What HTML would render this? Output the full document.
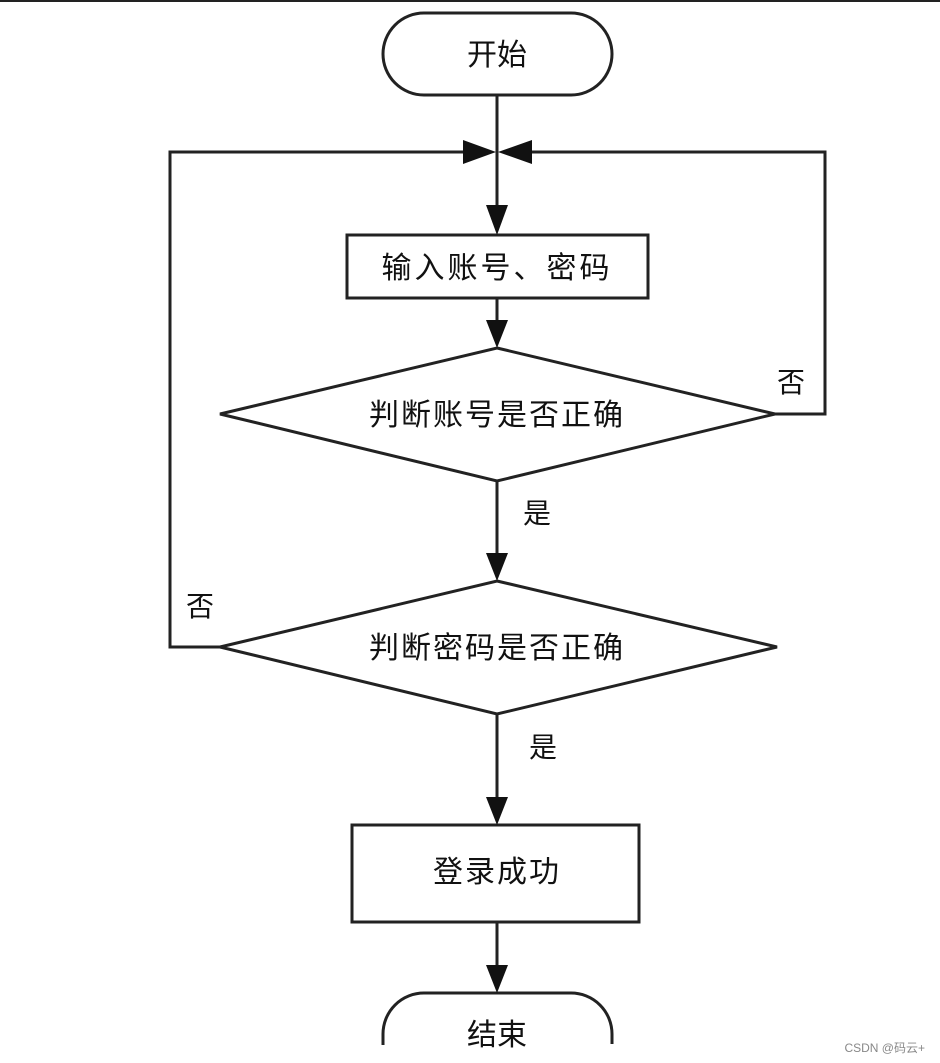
<!DOCTYPE html>
<html><head><meta charset="utf-8"><style>
html,body{margin:0;padding:0;background:#fff;}
svg{display:block}
text{font-family:"Liberation Sans","Noto Sans CJK SC",sans-serif;fill:#111;}
</style></head><body>
<svg width="940" height="1063" viewBox="0 0 940 1063">
<rect x="0" y="0" width="940" height="2" fill="#222"/>
<g stroke="#222" stroke-width="3" fill="none">
<rect x="383" y="13" width="229" height="82" rx="41"/>
<line x1="497" y1="95" x2="497" y2="205"/>
<polyline points="465,152 170,152 170,647 220,647"/>
<polyline points="530,152 825,152 825,414 775,414"/>
<rect x="347" y="235" width="301" height="63"/>
<line x1="497" y1="298" x2="497" y2="320"/>
<polygon points="497,348 775,414 497,481 220,414"/>
<line x1="497" y1="481" x2="497" y2="553"/>
<polygon points="497,581 777,647 497,714 220,647"/>
<line x1="497" y1="714" x2="497" y2="797"/>
<rect x="352" y="825" width="287" height="97"/>
<line x1="497" y1="922" x2="497" y2="965"/>
<rect x="383" y="993" width="229" height="100" rx="41"/>
</g>
<g fill="#111">
<polygon points="463,140 463,164 496,152"/>
<polygon points="532,140 532,164 498,152"/>
<polygon points="486,205 508,205 497,235"/>
<polygon points="486,320 508,320 497,348"/>
<polygon points="486,553 508,553 497,581"/>
<polygon points="486,797 508,797 497,825"/>
<polygon points="486,965 508,965 497,993"/>
</g>
<rect x="540" y="1044" width="300" height="19" fill="#fff"/>
<rect x="370" y="1045" width="260" height="18" fill="#fff"/>
<g font-size="30">
<text x="497" y="65" text-anchor="middle">开始</text>
<text x="497" y="278" text-anchor="middle" letter-spacing="3">输入账号、密码</text>
<text x="497" y="425" text-anchor="middle" letter-spacing="2">判断账号是否正确</text>
<text x="497" y="658" text-anchor="middle" letter-spacing="2">判断密码是否正确</text>
<text x="497" y="882" text-anchor="middle" letter-spacing="2">登录成功</text>
<text x="497" y="1045" text-anchor="middle">结束</text>
</g>
<g font-size="28">
<text x="537" y="523" text-anchor="middle">是</text>
<text x="543" y="757" text-anchor="middle">是</text>
<text x="200" y="616" text-anchor="middle">否</text>
<text x="791" y="392" text-anchor="middle">否</text>
</g>
<text x="925" y="1052" font-size="12" text-anchor="end" style="fill:#888">CSDN @码云+</text>
</svg>
</body></html>
